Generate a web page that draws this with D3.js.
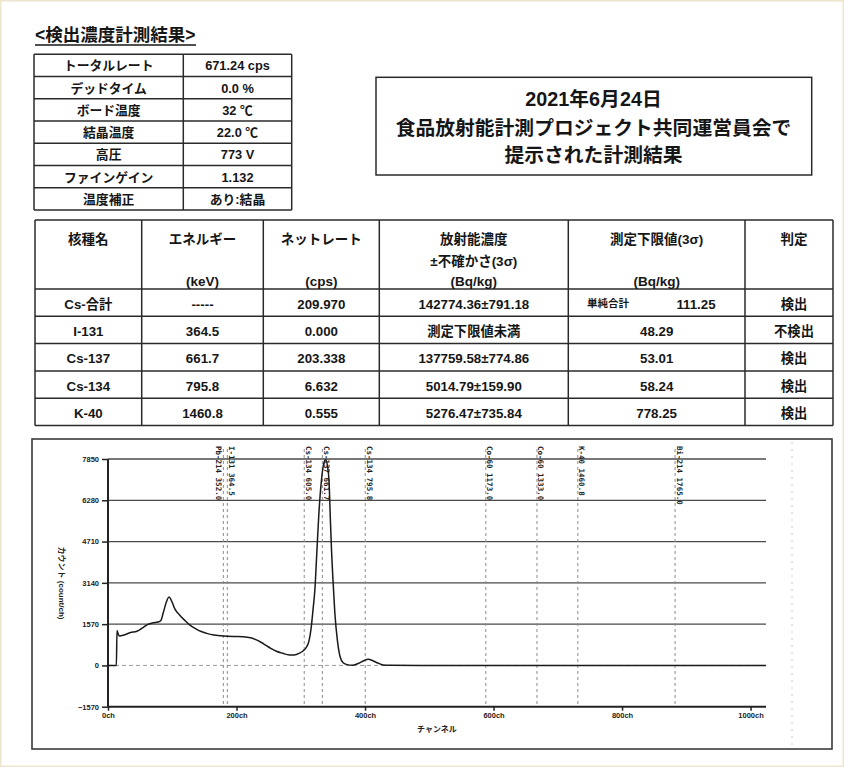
<!DOCTYPE html>
<html><head><meta charset="utf-8">
<script src="https://cdn.jsdelivr.net/npm/d3@7"></script>
<style>body{margin:0;background:#fff}svg{display:block}</style>
</head><body><svg id="c" width="844" height="767"></svg>
<script>
// ---- measurement summary ----
const summaryLabels = ["トータルレート","デッドタイム","ボード温度","結晶温度","高圧","ファインゲイン","温度補正"];
const summaryValues = ["671.24 cps","0.0 %","32 ℃","22.0 ℃","773 V","1.132","あり:結晶"];
const titleLines = ["2021年6月24日","食品放射能計測プロジェクト共同運営員会で","提示された計測結果"];

// ---- nuclide results ----
const headerLines = [["核種名"],["エネルギー","","(keV)"],["ネットレート","","(cps)"],
  ["放射能濃度","±不確かさ(3σ)","(Bq/kg)"],["測定下限値(3σ)","","(Bq/kg)"],["判定"]];
const nuclides = ["Cs-合計","I-131","Cs-137","Cs-134","K-40"];
const energies = ["-----","364.5","661.7","795.8","1460.8"];
const netRates = ["209.970","0.000","203.338","6.632","0.555"];
const concentrations = ["142774.36±791.18","測定下限値未満","137759.58±774.86","5014.79±159.90","5276.47±735.84"];
const limitNotes = ["単純合計","","","",""];
const detectionLimits = ["111.25","48.29","53.01","58.24","778.25"];
const judgments = ["検出","不検出","検出","検出","検出"];

// ---- spectrum ----
const markerNames = ["Pb-214","I-131","Cs-134","Cs-137","Cs-134","Co-60","Co-60","K-40","Bi-214"];
const markerEnergies = [352.0,364.5,605.0,661.7,795.8,1173.0,1333.0,1460.8,1765.0];
const yTicks = [-1570,0,1570,3140,4710,6280,7850];
const xTicks = [0,200,400,600,800,1000];
const spectrumChannels = [0,13,14,16,18,25,35,45,55,62,70,78,82,86,90,95,99,104,112,120,128,136,145,155,165,180,195,210,222,230,238,246,254,262,272,282,290,298,304,309,313,316,319,322,325,328,332,336,339,342,344,346,348,350,353,357,361,366,372,381,390,398,405,412,420,428,440,520,700,900,1024];
const spectrumCounts   = [0,0,1330,1180,1120,1160,1250,1300,1450,1560,1620,1650,1700,2000,2350,2600,2450,2150,1900,1700,1520,1400,1290,1210,1160,1120,1100,1090,1050,980,880,760,640,540,460,400,400,470,560,700,950,1400,2100,2900,4300,5700,7000,7700,7820,7500,7000,5600,4300,3300,2000,950,350,100,30,10,80,180,230,180,90,20,5,0,0,0,0];
const keVPerChannel = 2.01, keVOffset = -8.8;

const svg = d3.select("#c");
const ink = "#161616";
const jp = "'Liberation Sans','Noto Sans CJK JP',sans-serif";

// page edge
svg.append("rect").attr("x",0.75).attr("y",0.75).attr("width",842.5).attr("height",765.5)
  .attr("fill","#fff").attr("stroke","#eee5cf").attr("stroke-width",1.5);

// heading
svg.append("text").attr("x",35).attr("y",41).attr("font-family",jp).attr("font-weight","bold")
  .attr("font-size",17.5).attr("fill",ink).text("<検出濃度計測結果>");
svg.append("line").attr("x1",35).attr("x2",196).attr("y1",45).attr("y2",45).attr("stroke",ink).attr("stroke-width",1.3);

// summary table
const t1x = [34,183.3,291.7];
const t1y = d3.range(8).map(i => 54.3 + i*22.25);
const t1 = svg.append("g");
t1y.forEach(y => t1.append("line").attr("x1",t1x[0]).attr("x2",t1x[2]).attr("y1",y).attr("y2",y));
t1x.forEach(x => t1.append("line").attr("x1",x).attr("x2",x).attr("y1",t1y[0]).attr("y2",t1y[7]));
t1.selectAll("line").attr("stroke","#2a2a2a").attr("stroke-width",1.5);
summaryLabels.forEach((s,i) => {
  const cy = (t1y[i]+t1y[i+1])/2;
  t1.append("text").attr("x",(t1x[0]+t1x[1])/2).attr("y",cy+5).text(s);
  t1.append("text").attr("x",(t1x[1]+t1x[2])/2).attr("y",cy+5).text(summaryValues[i]);
});
t1.selectAll("text").attr("text-anchor","middle").attr("font-family",jp).attr("font-weight","bold")
  .attr("font-size",12.8).attr("fill",ink);

// title box
svg.append("rect").attr("x",376).attr("y",77.3).attr("width",435.7).attr("height",97.7)
  .attr("fill","none").attr("stroke","#2a2a2a").attr("stroke-width",1.5);
titleLines.forEach((s,i) => {
  svg.append("text").attr("x",593.5).attr("y",[106,135,162][i]).attr("text-anchor","middle")
    .attr("font-family",jp).attr("font-weight","bold").attr("font-size",19.8).attr("fill",ink).text(s);
});

// results table
const cx = [35,141.7,263.3,379.3,568.3,745,833];
const ry = [220,289].concat(d3.range(1,6).map(i => 289 + i*27.3));
const t2 = svg.append("g");
ry.forEach(y => t2.append("line").attr("x1",cx[0]).attr("x2",cx[6]).attr("y1",y).attr("y2",y));
cx.forEach(x => t2.append("line").attr("x1",x).attr("x2",x).attr("y1",ry[0]).attr("y2",ry[6]));
t2.selectAll("line").attr("stroke","#2a2a2a").attr("stroke-width",1.5);
const mid = i => (cx[i]+cx[i+1])/2;
headerLines.forEach((lines,i) => {
  lines.forEach((s,j) => {
    if (!s) return;
    t2.append("text").attr("class","hd").attr("x",mid(i)+(i===5?5:0)).attr("y",[244,266,285.5][j]).text(s);
  });
});
const cols = [nuclides,energies,netRates,concentrations,detectionLimits,judgments];
nuclides.forEach((_,r) => {
  const y = (ry[r+1]+ry[r+2])/2 + 6;
  cols.forEach((col,i) => {
    let x = mid(i) + (i===5?5:0);
    if (i===4 && limitNotes[r]) {
      t2.append("text").attr("class","note").attr("x",587).attr("y",y-2).attr("text-anchor","start").text(limitNotes[r]);
      x = 696;
    }
    t2.append("text").attr("class","cell").attr("x",x).attr("y",y).text(col[r]);
  });
});
t2.selectAll("text").attr("text-anchor", function(){ return d3.select(this).attr("text-anchor") || "middle"; })
  .attr("font-family",jp).attr("font-weight","bold").attr("fill",ink);
t2.selectAll("text.hd").attr("font-size",13.5);
t2.selectAll("text.cell").attr("font-size",13.3);
t2.selectAll("text.note").attr("font-size",10.5);

// spectrum panel
svg.append("rect").attr("x",32).attr("y",439).attr("width",800).attr("height",310)
  .attr("fill","none").attr("stroke","#3a3a3a").attr("stroke-width",1.6);
svg.append("line").attr("x1",792).attr("x2",792).attr("y1",442).attr("y2",748)
  .attr("stroke","#c8c8c8").attr("stroke-width",1).attr("stroke-dasharray","2 5");

const x = d3.scaleLinear().domain([0,1024]).range([108,766]);
const y = d3.scaleLinear().domain([-1570,7850]).range([706.7,459]);
const chOf = e => (e - keVOffset)/keVPerChannel;

const g = svg.append("g");
// horizontal grid
yTicks.forEach(v => {
  if (v === -1570) return;
  g.append("line").attr("x1",x(0)).attr("x2",x(1024)).attr("y1",y(v)).attr("y2",y(v))
    .attr("stroke", v===0 ? "#9a9a9a" : "#4a4a4a").attr("stroke-width", v===0 ? 1 : 1.3)
    .attr("stroke-dasharray", v===0 ? "4 3" : null);
});
// nuclide markers
markerEnergies.forEach((e,i) => {
  const px = x(chOf(e));
  g.append("line").attr("x1",px).attr("x2",px).attr("y1",449).attr("y2",y(-1570))
    .attr("stroke","#8c8c8c").attr("stroke-width",1).attr("stroke-dasharray","3 3");
  const next = markerEnergies[i+1];
  const crowded = next !== undefined && x(chOf(next)) - px < 8;
  const lx = crowded ? px - 7 : px + 1.5;
  g.append("text").attr("transform",`translate(${lx},446) rotate(90)`)
    .attr("font-family","'DejaVu Sans Mono',monospace").attr("font-weight","bold")
    .attr("font-size",7.5).attr("fill","#1e1e1e").text(`${markerNames[i]} ${e.toFixed(1)}`);
});
// axes
const yAxis = g.append("g").attr("transform",`translate(${x(0)},0)`)
  .call(d3.axisLeft(y).tickValues(yTicks).tickSize(6).tickPadding(3).tickFormat(d3.format("d")));
const xAxis = g.append("g").attr("transform",`translate(0,${y(-1570)})`)
  .call(d3.axisBottom(x).tickValues(xTicks).tickSize(4).tickPadding(2).tickFormat(d => d + "ch"));
[yAxis,xAxis].forEach(a => {
  a.select(".domain").attr("stroke","#222").attr("stroke-width",2);
  a.selectAll(".tick line").attr("stroke","#222").attr("stroke-width",1.5);
  a.selectAll("text").attr("font-family","'Liberation Sans',sans-serif").attr("font-weight","bold")
    .attr("font-size",7.5).attr("fill","#222");
});
xAxis.select(".domain").attr("d",`M${x(0)},0H${x(1024)}`);
yAxis.select(".domain").attr("d",`M0,${y(-1570)}V${y(7850)}`);

// spectrum trace
const pts = spectrumChannels.map((c,i) => [c, spectrumCounts[i]]);
g.append("path").datum(pts).attr("fill","none").attr("stroke","#1a1a1a").attr("stroke-width",1.5)
  .attr("d", d3.line().x(d => x(d[0])).y(d => y(d[1])).curve(d3.curveMonotoneX));

// axis titles
g.append("text").attr("transform",`translate(59,583) rotate(90)`).attr("text-anchor","middle")
  .attr("font-family",jp).attr("font-weight","bold").attr("font-size",8).attr("fill","#222")
  .text("カウント (count/ch)");
g.append("text").attr("x",437).attr("y",732).attr("text-anchor","middle")
  .attr("font-family",jp).attr("font-weight","bold").attr("font-size",8).attr("fill","#222")
  .text("チャンネル");
</script></body></html>
